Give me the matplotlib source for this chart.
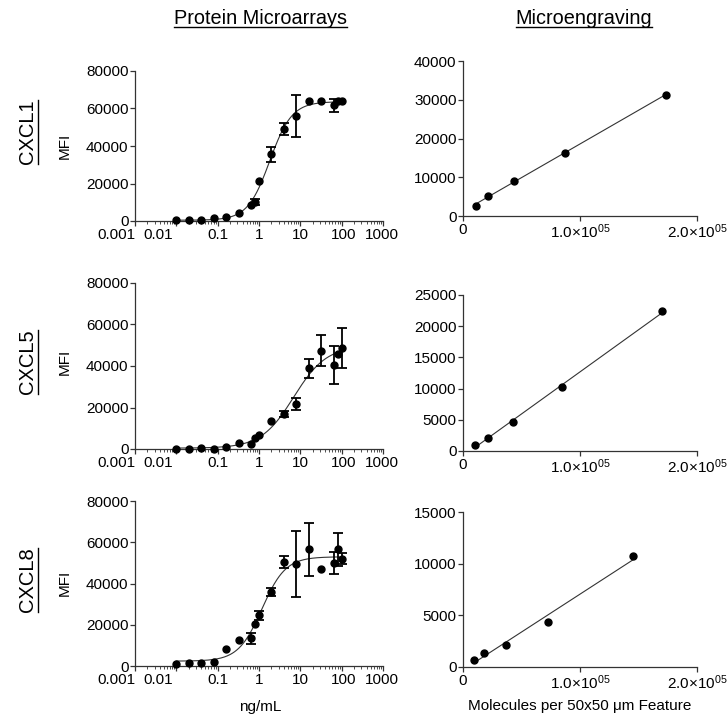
import numpy as np
import matplotlib
matplotlib.use("Agg")
import matplotlib.pyplot as plt
import matplotlib.transforms as mtransforms
from matplotlib.lines import Line2D
from matplotlib.ticker import LogLocator, NullFormatter, FixedLocator

plt.rcParams['font.family'] = ['Liberation Sans', 'DejaVu Sans']
plt.rcParams['mathtext.fontset'] = 'custom'
plt.rcParams['mathtext.rm'] = 'Liberation Sans'
plt.rcParams['mathtext.it'] = 'Liberation Sans:italic'
plt.rcParams['mathtext.bf'] = 'Liberation Sans:bold'

# concentrations (ng/mL) used for the protein microarray curves
conc = [0.01, 0.02, 0.04, 0.08, 0.16, 0.32, 0.64, 0.8, 1, 2, 4, 8, 16, 32, 64, 80, 100]

cxcl1_mfi = [300, 600, 700, 1400, 2000, 4400, 8400, 10100, 21500, 35500, 48900, 56000,
             64000, 64000, 61700, 64000, 64000]
cxcl1_err = [0, 0, 0, 0, 0, 0, 0, 1500, 0, 3800, 3100, 11200, 0, 0, 3400, 0, 0]

cxcl5_mfi = [150, 150, 500, 150, 800, 2700, 2400, 5100, 6800, 13700, 16900, 21700,
             38800, 47300, 40400, 45900, 48500]
cxcl5_err = [0, 0, 0, 0, 0, 0, 0, 0, 0, 0, 1600, 2700, 4500, 7400, 9200, 0, 9700]

cxcl8_mfi = [970, 1300, 1600, 2100, 8400, 12400, 13500, 20500, 24500, 35800, 50300, 49400,
             56500, 46800, 50000, 56600, 52100]
cxcl8_err = [0, 0, 0, 0, 0, 0, 2700, 0, 2100, 1800, 3000, 16000, 13000, 0, 5500, 8100, 2600]

# microengraving: molecules per feature vs signal
cxcl1_mol = [10800, 21700, 43400, 86800, 173600]
cxcl1_sig = [2600, 5200, 9100, 16300, 31300]
cxcl5_mol = [10600, 21200, 42500, 85000, 170000]
cxcl5_sig = [1020, 2140, 4600, 10230, 22380]
cxcl8_mol = [9100, 18200, 36400, 72700, 145000]
cxcl8_sig = [710, 1320, 2130, 4350, 10710]

names = ['CXCL1', 'CXCL5', 'CXCL8']
left_data = [(cxcl1_mfi, cxcl1_err), (cxcl5_mfi, cxcl5_err), (cxcl8_mfi, cxcl8_err)]
right_data = [(cxcl1_mol, cxcl1_sig), (cxcl5_mol, cxcl5_sig), (cxcl8_mol, cxcl8_sig)]
right_ymax = [40000, 25000, 15000]
right_ystep = [10000, 5000, 5000]
log_ticks = [0.001, 0.01, 0.1, 1, 10, 100, 1000]
log_labels = ['0.001', '0.01', '0.1', '1', '10', '100', '1000']

W, H = 728, 719
fig = plt.figure(figsize=(W / 100, H / 100), dpi=100)

def px_axes(x0, y0, x1, y1):
    return fig.add_axes([x0 / W, 1 - y1 / H, (x1 - x0) / W, (y1 - y0) / H])

left_boxes = [(135, 71, 383, 221), (135, 283, 383, 449), (135, 501, 383, 666)]
right_boxes = [(463, 61, 697, 216), (463, 295, 697, 451), (463, 512, 697, 667)]

spine_col = '#333333'
FS = 11


def style(ax):
    for s in ['top', 'right']:
        ax.spines[s].set_visible(False)
    for s in ['left', 'bottom']:
        ax.spines[s].set_color(spine_col)
        ax.spines[s].set_linewidth(0.9)
    ax.tick_params(which='major', length=3.5, width=0.9, color=spine_col,
                   labelsize=FS, pad=1.2)
    ax.tick_params(which='minor', length=2, width=0.6, color=spine_col)


def fit_4pl(x, y):
    lx = np.log10(x)
    y = np.asarray(y, float)
    best = None
    for lec in np.linspace(-1, 2, 301):
        for h in np.linspace(0.5, 3, 126):
            s = 1 / (1 + 10 ** ((lec - lx) * h))
            A = np.column_stack([1 - s, s])
            coef, *_ = np.linalg.lstsq(A, y, rcond=None)
            sse = np.sum((A @ coef - y) ** 2)
            if best is None or sse < best[0]:
                best = (sse, coef[0], coef[1], lec, h)
    return best[1:]


x = np.array(conc)
for i, (mfi, err) in enumerate(left_data):
    ax = px_axes(*left_boxes[i])
    style(ax)
    ax.set_xscale('log')
    ax.set_xlim(0.001, 1000)
    ax.set_ylim(0, 80000)
    ax.set_yticks([0, 20000, 40000, 60000, 80000])
    ax.set_xticks(log_ticks)
    ax.set_xticklabels(log_labels)
    ax.xaxis.set_minor_locator(LogLocator(base=10, subs=np.arange(2, 10), numticks=20))
    ax.xaxis.set_minor_formatter(NullFormatter())
    # the first two decade labels sit left of their ticks in the original
    for lab, dx in zip(ax.get_xticklabels(), [-19, -18, 0, 0, 0, 2, -1]):
        lab.set_transform(lab.get_transform() +
                          mtransforms.ScaledTranslation(dx / 100, 0, fig.dpi_scale_trans))

    bottom, top, lec, h = fit_4pl(x, mfi)
    xs = np.logspace(-2, 2, 300)
    ax.plot(xs, bottom + (top - bottom) / (1 + 10 ** ((lec - np.log10(xs)) * h)),
            color='#333333', lw=0.8, zorder=2)

    mfi = np.array(mfi)
    err = np.array(err)
    m = err > 0
    ax.errorbar(x[m], mfi[m], yerr=err[m], fmt='none', ecolor='black',
                elinewidth=1.3, capsize=3.5, capthick=1.3, zorder=3)
    ax.plot(x, mfi, 'o', color='black', ms=5, zorder=4, clip_on=False)

for i, (mol, sig) in enumerate(right_data):
    ax = px_axes(*right_boxes[i])
    style(ax)
    ax.set_xlim(0, 200000)
    ax.set_ylim(0, right_ymax[i])
    ax.set_yticks(np.arange(0, right_ymax[i] + 1, right_ystep[i]))
    ax.xaxis.set_major_locator(FixedLocator([0, 100000, 200000]))
    ax.set_xticklabels(['0', r'1.0$\times$10$^{05}$', r'2.0$\times$10$^{05}$'])
    k, b = np.polyfit(mol, sig, 1)
    xl = np.array([min(mol), max(mol)])
    ax.plot(xl, k * xl + b, color='#333333', lw=0.8, zorder=2)
    ax.plot(mol, sig, 'o', color='black', ms=5, zorder=4)

# axis titles
mfi_y = [146, 362, 583]
for yy in mfi_y:
    fig.text(65 / W, 1 - yy / H, 'MFI', rotation=90, ha='center', va='center', fontsize=FS)
fig.text(260 / W, 1 - 707 / H, 'ng/mL', ha='center', va='center', fontsize=FS)
fig.text(580 / W, 1 - 706 / H, 'Molecules per 50x50 \u03bcm Feature', ha='center',
         va='center', fontsize=FS)

# column titles and row labels (underlined)
texts = []
texts.append(fig.text(260 / W, 1 - 18 / H, 'Protein Microarrays', ha='center', va='center',
                      fontsize=14.3))
texts.append(fig.text(584 / W, 1 - 18 / H, 'Microengraving', ha='center', va='center',
                      fontsize=14.3))
row_y = [132, 362, 580]
for name, yy in zip(names, row_y):
    texts.append(fig.text(27 / W, 1 - yy / H, name, ha='center', va='center',
                          rotation=90, fontsize=14.5))

fig.canvas.draw()
r = fig.canvas.get_renderer()
for t in texts:
    bb = t.get_window_extent(r).transformed(fig.transFigure.inverted())
    if t.get_rotation() == 90:
        xx = bb.x1 + 1.0 / W
        fig.add_artist(Line2D([xx, xx], [bb.y0, bb.y1], color='black', lw=1.0,
                              transform=fig.transFigure))
    else:
        yy = bb.y0 + 0.5 / H
        fig.add_artist(Line2D([bb.x0, bb.x1], [yy, yy], color='black', lw=1.0,
                              transform=fig.transFigure))

fig.savefig('out.png', dpi=100)
